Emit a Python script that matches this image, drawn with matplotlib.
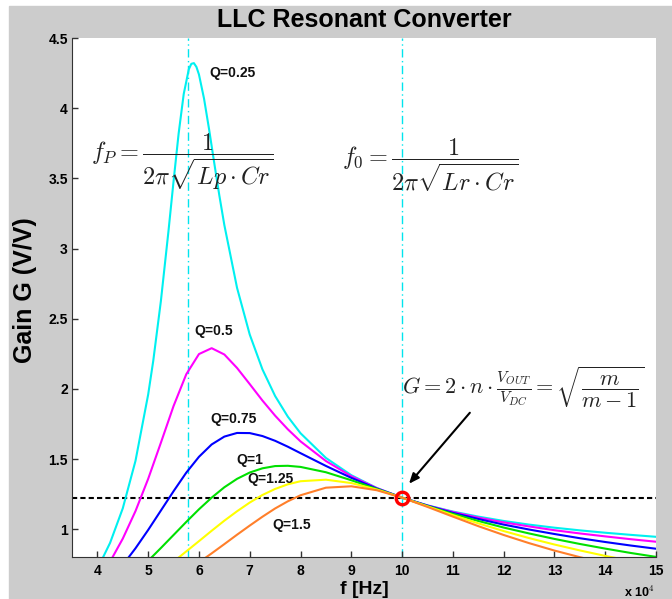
import matplotlib
matplotlib.use("Agg")
import matplotlib.pyplot as plt
from matplotlib.patches import Rectangle

plt.rcParams['font.family'] = ['Liberation Sans', 'DejaVu Sans']
plt.rcParams['font.weight'] = 'bold'
plt.rcParams['mathtext.fontset'] = 'cm'

# switching frequency, in units of 1e4 Hz
freq = [4.0, 4.25, 4.5, 4.75, 5.0, 5.25, 5.5, 5.75, 6.0, 6.25, 6.5, 6.75, 7.0, 7.25,
        7.5, 7.75, 8.0, 8.5, 9.0, 9.5, 10.0, 10.5, 11.0, 11.5, 12.0, 12.5, 13.0, 13.5,
        14.0, 14.5, 15.0]

# gain curves (V/V)
gain_q050 = [0.633, 0.769, 0.933, 1.129, 1.359, 1.616, 1.878, 2.104, 2.248, 2.290, 2.245,
             2.149, 2.034, 1.917, 1.809, 1.712, 1.626, 1.486, 1.378, 1.293, 1.225, 1.169,
             1.123, 1.083, 1.049, 1.020, 0.993, 0.970, 0.949, 0.929, 0.911]
gain_q075 = [0.541, 0.637, 0.745, 0.864, 0.995, 1.133, 1.271, 1.403, 1.516, 1.604, 1.660,
             1.686, 1.685, 1.664, 1.630, 1.588, 1.542, 1.451, 1.366, 1.290, 1.225, 1.168,
             1.117, 1.073, 1.033, 0.998, 0.966, 0.936, 0.909, 0.884, 0.861]
gain_q100 = [0.461, 0.531, 0.606, 0.688, 0.775, 0.866, 0.959, 1.052, 1.142, 1.225, 1.299,
             1.359, 1.404, 1.434, 1.450, 1.452, 1.444, 1.406, 1.349, 1.287, 1.225, 1.165,
             1.110, 1.059, 1.012, 0.970, 0.931, 0.895, 0.862, 0.831, 0.803]
gain_q125 = [0.397, 0.450, 0.507, 0.567, 0.631, 0.699, 0.769, 0.842, 0.915, 0.989, 1.061,
             1.128, 1.190, 1.244, 1.287, 1.320, 1.342, 1.353, 1.329, 1.283, 1.225, 1.163,
             1.101, 1.042, 0.987, 0.937, 0.891, 0.849, 0.810, 0.775, 0.743]
gain_q150 = [0.346, 0.388, 0.433, 0.481, 0.531, 0.585, 0.642, 0.701, 0.764, 0.828, 0.894,
             0.961, 1.026, 1.089, 1.148, 1.199, 1.242, 1.296, 1.306, 1.278, 1.225, 1.159,
             1.090, 1.022, 0.959, 0.901, 0.848, 0.801, 0.758, 0.720, 0.685]

# Q=0.25 has a sharp peak, so it was read at more points
freq_q025 = [4.0, 4.25, 4.5, 4.75, 5.0, 5.1, 5.25, 5.4, 5.5, 5.6, 5.7, 5.8, 5.85, 5.9, 5.95,
             6.0, 6.1, 6.2, 6.3, 6.4, 6.5, 6.75, 7.0, 7.25, 7.5, 7.75, 8.0, 8.5, 9.0, 9.5,
             10.0, 10.5, 11.0, 11.5, 12.0, 12.5, 13.0, 13.5, 14.0, 14.5, 15.0]
gain_q025 = [0.717, 0.903, 1.149, 1.487, 1.960, 2.200, 2.625, 3.125, 3.480, 3.820, 4.101,
             4.277, 4.316, 4.321, 4.294, 4.240, 4.068, 3.848, 3.612, 3.381, 3.167, 2.720,
             2.387, 2.139, 1.949, 1.802, 1.684, 1.508, 1.385, 1.294, 1.225, 1.170, 1.126,
             1.090, 1.059, 1.033, 1.011, 0.992, 0.975, 0.960, 0.946]

q_labels = ['Q=0.25', 'Q=0.5', 'Q=0.75', 'Q=1', 'Q=1.25', 'Q=1.5']
label_x = [6.21, 5.90, 6.23, 6.73, 6.95, 7.45]
label_y = [4.25, 2.41, 1.786, 1.495, 1.359, 1.031]
curve_colors = ['#00f0f0', '#ff00ff', '#0000ff', '#00e000', '#ffff00', '#ff7f2a']

f_p = 5.78      # parallel resonance
f_0 = 10.0      # series resonance
g_res = 1.2247  # gain at f_0

fig = plt.figure(figsize=(6.72, 5.99), dpi=100)
fig.patch.set_facecolor('white')
fig.add_artist(Rectangle((9 / 672, 0), 1, 1 - 6 / 599, transform=fig.transFigure,
                         color='#cccccc', zorder=-10))
ax = fig.add_axes([72 / 672, 1 - 557.3 / 599, 584 / 672, 519.3 / 599])

curves = [(freq_q025, gain_q025), (freq, gain_q050), (freq, gain_q075),
          (freq, gain_q100), (freq, gain_q125), (freq, gain_q150)]
for (xs, ys), c in zip(curves, curve_colors):
    ax.plot(xs, ys, color=c, lw=1.5)

for lbl, lx, ly in zip(q_labels, label_x, label_y):
    ax.text(lx, ly, lbl, fontsize=10, ha='left', va='center', color='#111111')

ax.axvline(f_p, color='#00e5ee', lw=1, linestyle=(0, (6, 2.5, 1, 2.5)), zorder=0)
ax.axvline(f_0, color='#00e5ee', lw=1, linestyle=(0, (6, 2.5, 1, 2.5)), zorder=0)
ax.axhline(g_res, color='black', lw=1.5, linestyle=(0, (2.5, 1.5)), zorder=1)
ax.plot([f_0], [g_res], 'o', mfc='none', mec='red', ms=9, mew=2.4, zorder=5)

ax.annotate('', xy=(10.10, 1.309), xytext=(11.37, 1.845),
            arrowprops=dict(arrowstyle='-|>,head_length=0.6,head_width=0.25',
                            color='black', lw=1.5))

# formulas
ax.text(3.88, 3.615, r'$f_P = \dfrac{1}{2\pi\sqrt{Lp\cdot Cr}}$', fontsize=17.5,
        ha='left', va='center', color='#222222')
ax.text(8.82, 3.595, r'$f_0 = \dfrac{1}{2\pi\sqrt{Lr\cdot Cr}}$', fontsize=17.5,
        ha='left', va='center', color='#222222')
ax.text(10.0, 2.01, r'$G = 2\cdot n\cdot\frac{V_{OUT}}{V_{DC}} = \sqrt{\dfrac{m}{m-1}}$',
        fontsize=16, ha='left', va='center', color='#222222')

ax.set_xlim(3.5, 15)
ax.set_ylim(0.8, 4.5)
ax.set_xticks(range(4, 16))
ax.set_yticks([1, 1.5, 2, 2.5, 3, 3.5, 4, 4.5])
ax.set_yticklabels(['1', '1.5', '2', '2.5', '3', '3.5', '4', '4.5'])
ax.tick_params(direction='in', length=4, width=1, labelsize=10, color='#333333')
ax.tick_params(axis='x', pad=5)
ax.tick_params(axis='y', pad=3)
for s in ['top', 'right']:
    ax.spines[s].set_visible(False)
for s in ['left', 'bottom']:
    ax.spines[s].set_color('#333333')

fig.text(364 / 672, 1 - 20 / 599, 'LLC Resonant Converter', fontsize=18,
         ha='center', va='center')
fig.text(25 / 672, 1 - 290 / 599, 'Gain G (V/V)', fontsize=18, rotation=90,
         ha='center', va='center')
fig.text(364 / 672, 1 - 589 / 599, 'f [Hz]', fontsize=14, ha='center', va='center')
fig.text(655 / 672, 1 - 592 / 599, r'x 10$^{\mathbf{4}}$', fontsize=9,
         ha='right', va='center')

fig.savefig('out.png', dpi=100)
